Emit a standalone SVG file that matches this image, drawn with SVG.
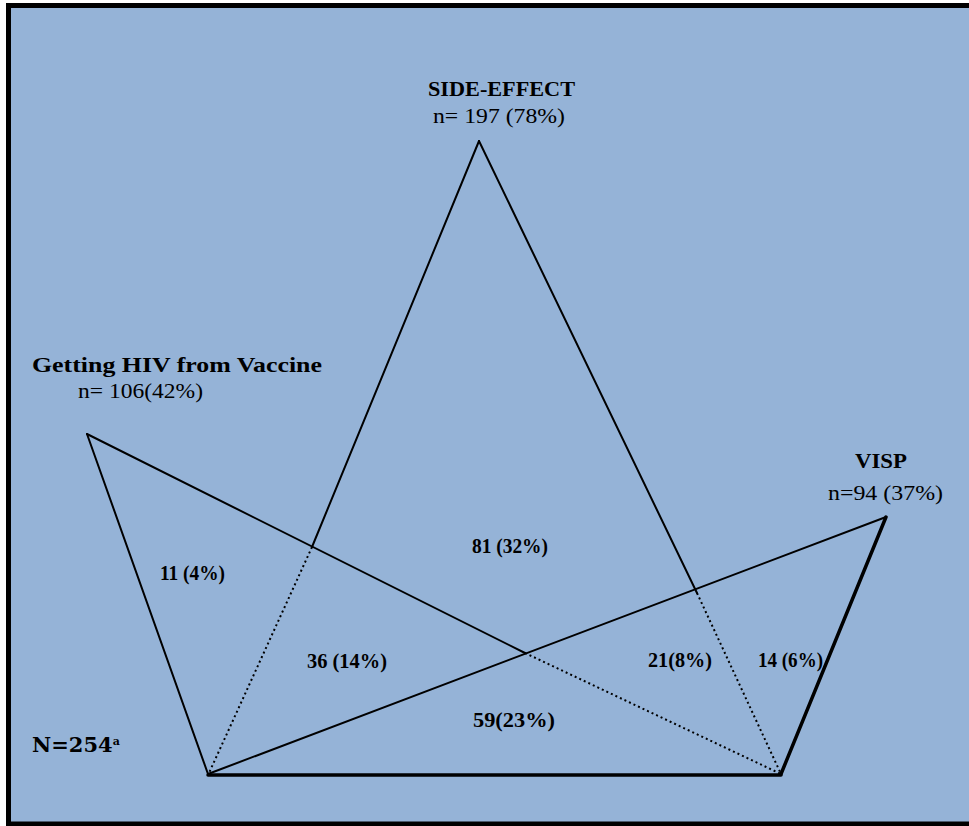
<svg xmlns="http://www.w3.org/2000/svg" width="969" height="826" viewBox="0 0 969 826">
<style>
.t{font-family:"Liberation Serif","DejaVu Serif",serif;fill:#000}
.b{font-weight:bold}
.ln{stroke:#000;stroke-width:2;fill:none;stroke-linecap:round}
.dt{stroke:#000;stroke-width:2;fill:none;stroke-dasharray:2 3}
.th{stroke:#000;stroke-width:3.5;fill:none;stroke-linecap:round}
</style>
<rect x="0" y="0" width="969" height="826" fill="#fff"/>
<rect x="8.5" y="5.5" width="975" height="818.5" fill="#95B3D7" stroke="#000" stroke-width="5"/>
<g id="connectors">
<line class="ln" x1="479" y1="141" x2="312" y2="547"/>
<line class="dt" x1="312" y1="547" x2="209" y2="773"/>
<line class="ln" x1="479" y1="141" x2="697" y2="593"/>
<line class="dt" x1="697" y1="593" x2="781" y2="774"/>
<line class="ln" x1="87" y1="434" x2="525" y2="653"/>
<line class="dt" x1="525" y1="653" x2="781" y2="774"/>
<line class="ln" x1="87" y1="434" x2="208" y2="774"/>
<line class="ln" x1="208" y1="774" x2="886" y2="517"/>
<line class="th" x1="886" y1="517" x2="781" y2="774"/>
<line class="th" x1="208" y1="775" x2="781" y2="775"/>
</g>
<g id="side-effect">
<text class="t b" x="428" y="96" font-size="22" textLength="147" lengthAdjust="spacingAndGlyphs">SIDE-EFFECT</text>
<text class="t" x="433" y="123" font-size="21" textLength="132" lengthAdjust="spacingAndGlyphs">n= 197 (78%)</text>
</g>
<g id="hiv">
<text class="t b" x="32" y="372" font-size="22" textLength="290" lengthAdjust="spacingAndGlyphs">Getting HIV from Vaccine</text>
<text class="t" x="78" y="398" font-size="21" textLength="125" lengthAdjust="spacingAndGlyphs">n= 106(42%)</text>
</g>
<g id="visp">
<text class="t b" x="855" y="468" font-size="22" textLength="52" lengthAdjust="spacingAndGlyphs">VISP</text>
<text class="t" x="828" y="500" font-size="21" textLength="115" lengthAdjust="spacingAndGlyphs">n=94 (37%)</text>
</g>
<g id="total">
<text class="t b" x="32" y="752" font-size="21" style="font-family:'DejaVu Serif',serif">N=254<tspan font-size="11" dy="-7">a</tspan></text>
</g>
<g id="regions">
<text class="t b" x="160" y="580" font-size="20" textLength="65" lengthAdjust="spacingAndGlyphs">11 (4%)</text>
<text class="t b" x="472" y="553" font-size="20" textLength="76" lengthAdjust="spacingAndGlyphs">81 (32%)</text>
<text class="t b" x="307" y="668" font-size="20" textLength="80" lengthAdjust="spacingAndGlyphs">36 (14%)</text>
<text class="t b" x="473" y="727" font-size="21" textLength="82" lengthAdjust="spacingAndGlyphs">59(23%)</text>
<text class="t b" x="648" y="667" font-size="20" textLength="64" lengthAdjust="spacingAndGlyphs">21(8%)</text>
<text class="t b" x="758" y="667" font-size="20" textLength="65" lengthAdjust="spacingAndGlyphs">14 (6%)</text>
</g>
</svg>
